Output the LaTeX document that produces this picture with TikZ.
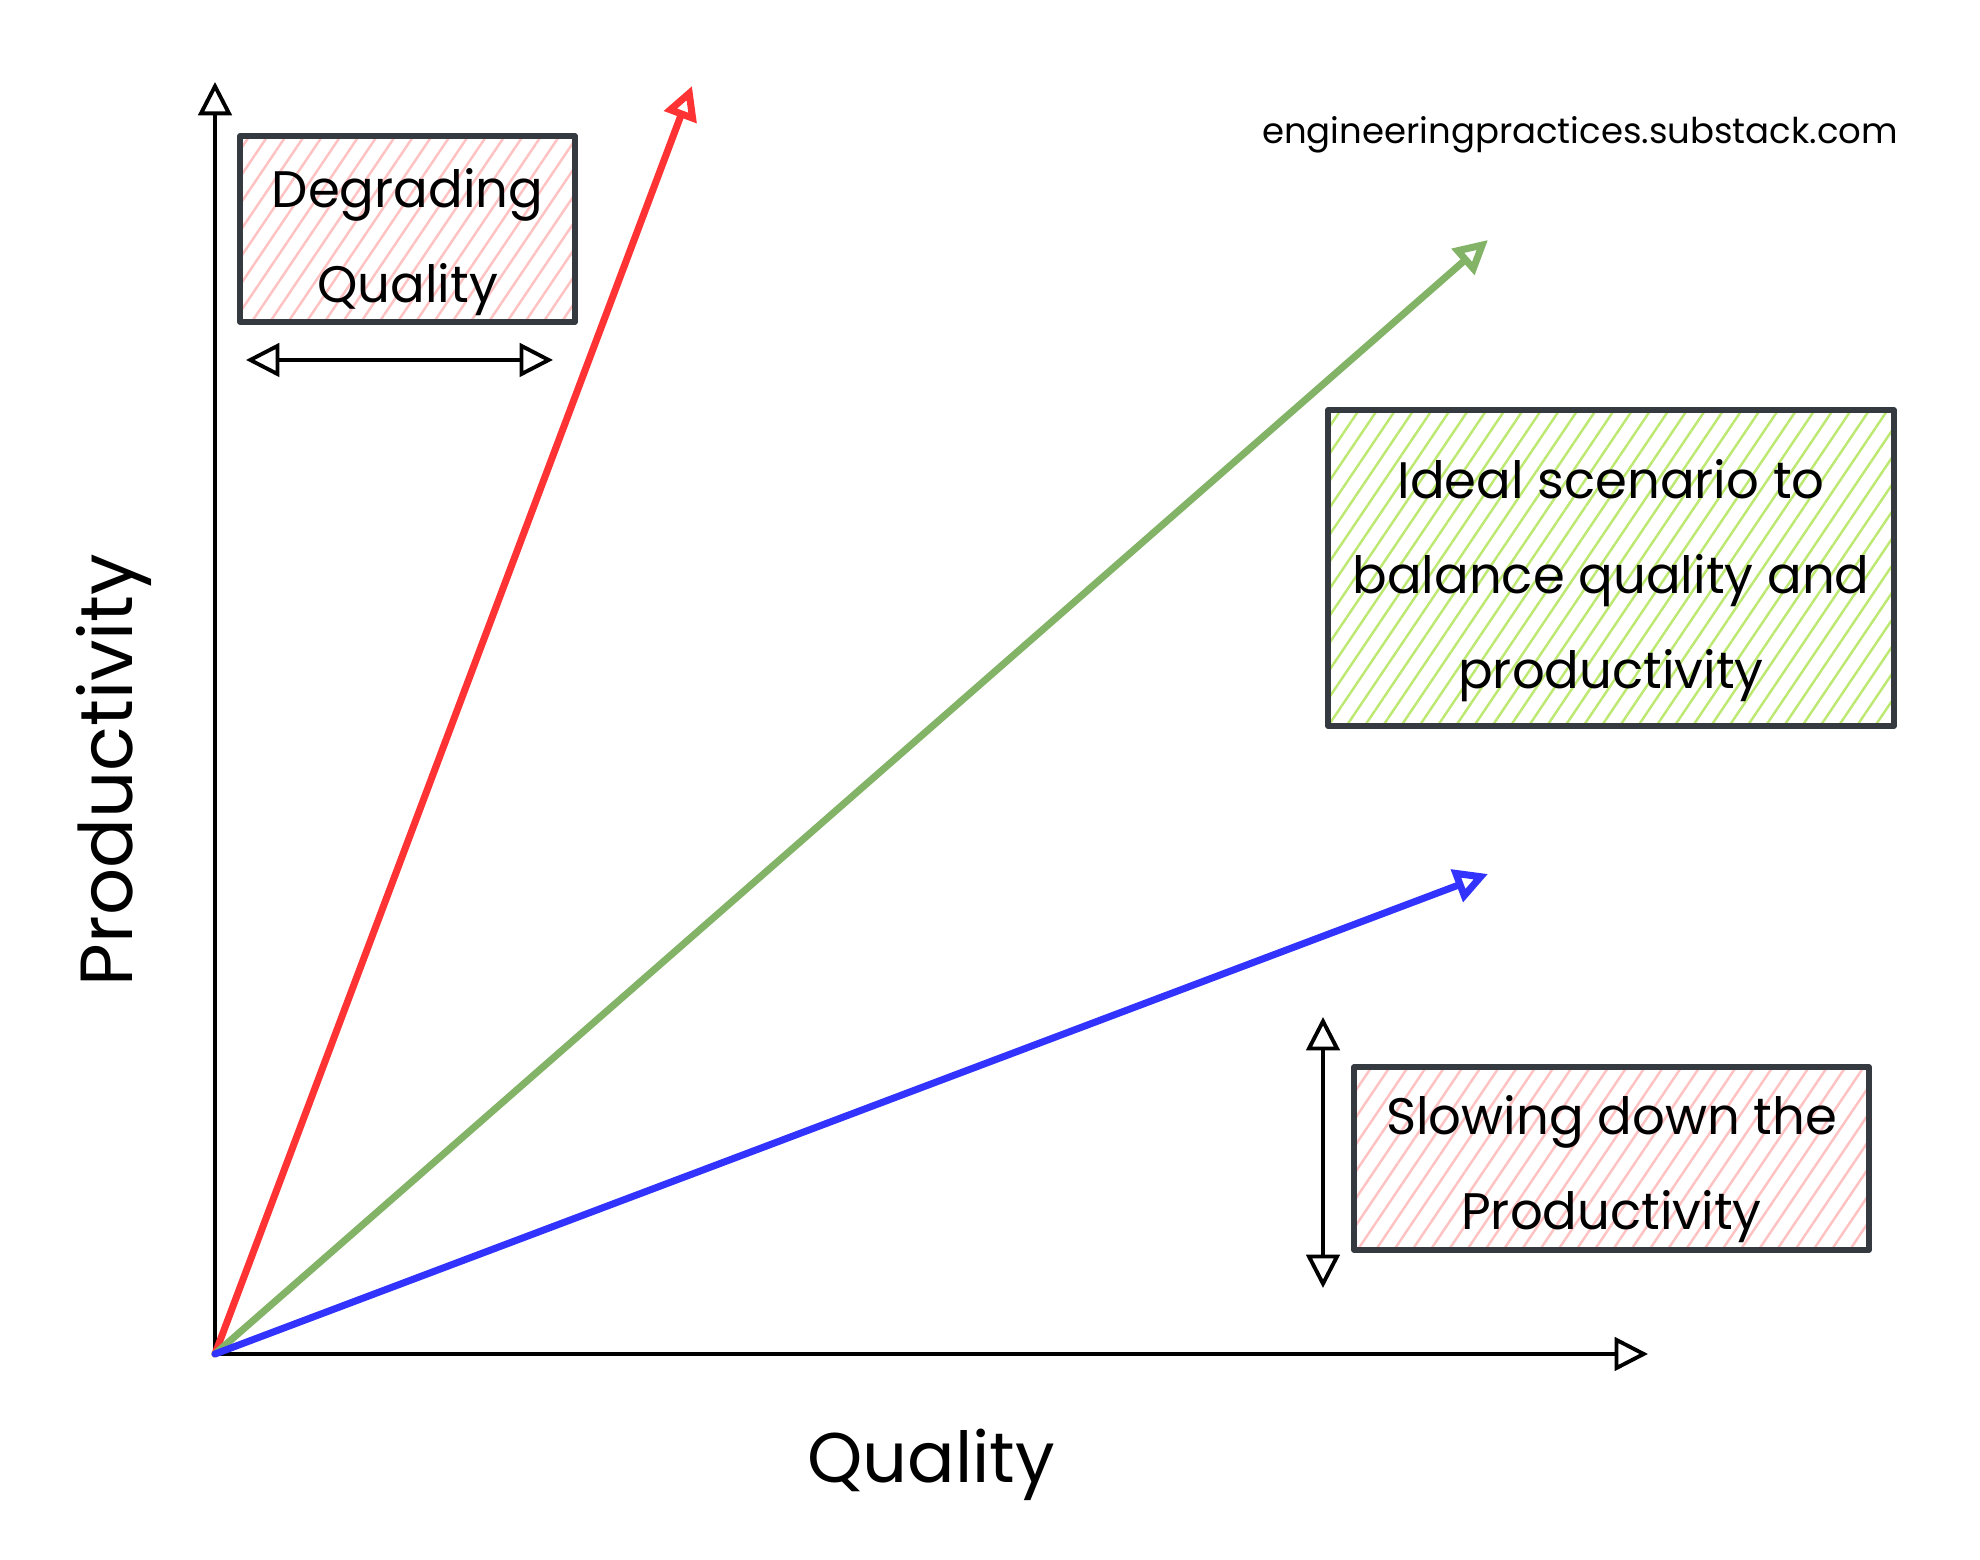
\documentclass[tikz,border=0pt]{standalone}
\usepackage{fontspec}
\setmainfont{Poppins}
\usetikzlibrary{arrows.meta,patterns.meta}
\definecolor{redline}{HTML}{FF3333}
\definecolor{greenline}{HTML}{82B366}
\definecolor{blueline}{HTML}{3333FF}
\definecolor{boxedge}{HTML}{343A40}
\definecolor{pinkhatch}{HTML}{FFC2C2}
\definecolor{limehatch}{HTML}{BDE872}
\tikzset{
 sketchbox/.style={draw=boxedge,line width=1.5pt,inner sep=0pt},
 boxtext/.style={align=center,inner sep=0pt,font=\fontsize{14.6}{27}\selectfont},
 pinkbox/.style={sketchbox,pattern={Lines[angle=56,distance=4.3pt,line width=.7pt]},pattern color=pinkhatch},
 limebox/.style={sketchbox,pattern={Lines[angle=56,distance=4.3pt,line width=.7pt]},pattern color=limehatch},
 trend/.style={line width=2pt,->}
}
\begin{document}
\begin{tikzpicture}[>={Triangle[open,length=9.5pt,width=9.5pt]},line cap=round,line join=round]
 \useasboundingbox (0,0) rectangle (19.8,15.6);
 % axes
 \coordinate (O) at (2.15,2.06);
 \coordinate (ytip) at (2.15,14.78);
 \coordinate (xtip) at (16.48,2.06);
 \draw[line width=1.1pt,->] (O)--(ytip);
 \draw[line width=1.1pt,->] (O)--(xtip);
 \node[rotate=90,font=\fontsize{21}{25}\selectfont] (prod) at (1.14,7.90) {Productivity};
 \node[font=\fontsize{20}{24}\selectfont] (qual) at (9.31,0.95) {Quality};
 \node[font=\fontsize{10.1}{12}\selectfont] (site) at (15.80,14.25) {engineeringpractices.substack.com};
 % the three directions
 \coordinate (redtip) at (6.92,14.74);
 \coordinate (greentip) at (14.88,13.20);
 \coordinate (bluetip) at (14.88,6.86);
 \draw[trend,redline] (O)--(redtip);
 \draw[trend,greenline] (O)--(greentip);
 \draw[trend,blueline] (O)--(bluetip);
 % boxes
 \node[pinkbox,minimum width=3.35cm,minimum height=1.86cm] (degrade) at (4.075,13.31) {};
 \node[boxtext] (degradetxt) at ([yshift=-.13cm]degrade.center) {Degrading\\Quality};
 \node[limebox,minimum width=5.66cm,minimum height=3.16cm] (ideal) at (16.11,9.92) {};
 \node[boxtext] (idealtxt) at ([yshift=-.13cm]ideal.center) {Ideal scenario to\\balance quality and\\productivity};
 \node[pinkbox,minimum width=5.15cm,minimum height=1.83cm] (slow) at (16.115,4.015) {};
 \node[boxtext] (slowtxt) at ([yshift=-.11cm]slow.center) {Slowing down the\\Productivity};
 % spans
 \coordinate (hl) at (2.46,12.0);
 \coordinate (hr) at (5.53,12.0);
 \coordinate (vt) at (13.23,5.43);
 \coordinate (vb) at (13.23,2.72);
 \draw[line width=1.1pt,<->] (hl)--(hr);
 \draw[line width=1.1pt,<->] (vt)--(vb);
\end{tikzpicture}
\end{document}
